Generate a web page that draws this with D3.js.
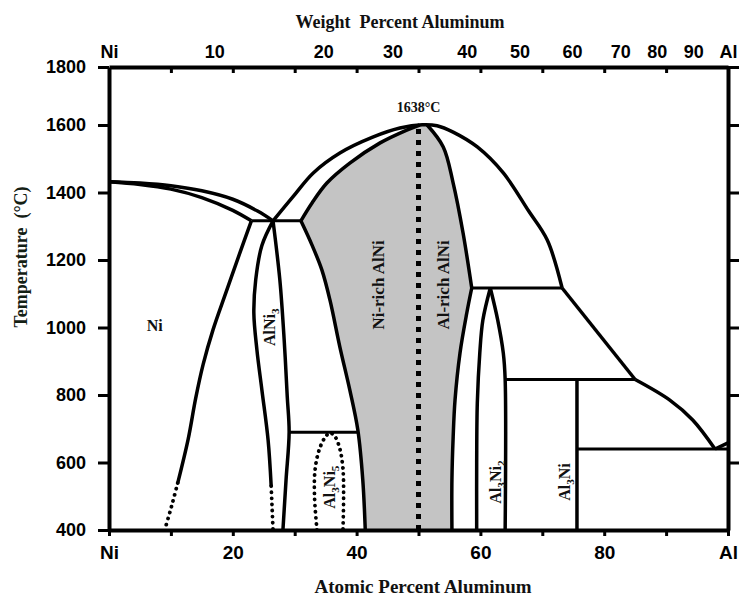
<!DOCTYPE html>
<html>
<head>
<meta charset="utf-8">
<script src="https://cdn.jsdelivr.net/npm/d3@7"></script>
<style>
  body { margin: 0; background: #fff; }
  text { white-space: pre; }
</style>
</head>
<body>
<script>
// axis labels
var bottomTicks = [0, 10, 20, 30, 40, 50, 60, 70, 80, 90, 100];
var bottomLabels = {0: "Ni", 20: "20", 40: "40", 60: "60", 80: "80", 100: "Al"};
var tempTicks = [400, 600, 800, 1000, 1200, 1400, 1600, 1800];
var weightLabels = ["Ni", "10", "20", "30", "40", "50", "60", "70", "80", "90", "Al"];
var weightAtPct = [0, 17.0, 34.6, 45.8, 57.8, 66.3, 74.8, 82.6, 88.5, 94.4, 100];

// phase boundaries, [atomic % Al, temperature °C]
var niLiquidus = [[0,1432],[5,1428],[10,1420],[15,1405],[20,1380],[24,1345],[26.5,1316]];
var niSolidus = [[0,1432],[5,1424],[10,1410],[15,1385],[20,1347],[23,1316]];
var niSolvus = [[23,1316],[21.2,1224],[18.9,1104],[16.8,993],[15.2,890],[14.0,790],[12.8,670],[11.1,539]];
var niSolvusDot = [[11.1,539],[10.1,470],[9.0,400]];
var alni3Left = [[26.5,1316],[24.7,1243],[23.7,1141],[23.4,1043],[23.9,933],[24.7,815],[25.7,667],[26.2,530]];
var alni3LeftDot = [[26.2,530],[26.5,400]];
var alni3Right = [[26.5,1316],[27.6,1141],[28.3,963],[28.8,794],[29.1,690],[28.6,548],[28.1,400]];
var alniNiSide = [[31.0,1316],[32.8,1244],[34.4,1170],[35.7,1081],[37.3,942],[38.9,815],[40.2,696],[41.0,548],[41.4,400]];
var alniSolidus = [[31.0,1316],[32.8,1369],[35.2,1428],[38.9,1487],[43.8,1547],[48.1,1585],[50.2,1600]];
var alniAlUpper = [[51.4,1600],[54.0,1535],[55.6,1428],[57.2,1280],[58.6,1117]];
var alniAlLower = [[58.6,1117],[57.8,1043],[56.7,924],[55.9,785],[55.6,676],[55.4,548],[55.4,400]];
var liquidusDome = [[26.5,1316],[29.7,1387],[33.0,1458],[37.3,1517],[42.6,1564],[47.0,1591],[50.6,1601],[53.0,1598],[55.6,1579],[59.5,1535],[63.7,1458],[67.8,1345],[70.8,1259],[73.2,1117]];
var liquidusMid = [[73.2,1117],[85.0,846]];
var liquidusAl = [[85.0,846],[90.6,785],[94.3,726],[97.9,640]];
var liquidusEnd = [[97.9,640],[100,658]];
var al3ni2Left = [[61.6,1117],[60.4,1022],[59.9,924],[59.5,776],[59.4,600],[59.4,400]];
var al3ni2Right = [[61.6,1117],[62.8,1022],[63.7,924],[64.0,846],[64.0,400]];
var al3ni5Dome = [[33.6,400],[33.2,500],[33.3,580],[34.0,640],[35.0,677],[35.7,688],[36.5,677],[37.3,640],[37.8,580],[37.9,500],[37.8,400]];
var isotherms = [[[23,1316],[31.0,1316]], [[58.6,1117],[73.2,1117]], [[64.0,846],[85.0,846]], [[75.6,640],[100,640]], [[29.1,690],[40.3,690]]];
var al3niLine = [[75.6,400],[75.6,846]];
var congruent = [[50,400],[50,1600]];

var phaseLabels = [
  {t: "Ni", at: 7.4, T: 1005, rot: 0},
  {t: "AlNi_3", at: 26.0, T: 1001, rot: -90},
  {t: "Ni-rich AlNi", at: 43.5, T: 1126, rot: -90},
  {t: "Al-rich AlNi", at: 54.0, T: 1126, rot: -90},
  {t: "Al_3Ni_5", at: 35.7, T: 527, rot: -90},
  {t: "Al_3Ni_2", at: 62.4, T: 542, rot: -90},
  {t: "Al_3Ni", at: 73.7, T: 542, rot: -90}
];

var svg = d3.select("body").append("svg")
    .attr("width", 739)
    .attr("height", 597);

svg.append("rect").attr("width", 739).attr("height", 597).attr("fill", "#fff");

var x = d3.scaleLinear().domain([0, 100]).range([109, 728]);
var y = d3.scaleLinear().domain([400, 1600, 1800]).range([530, 125, 67]);

var curve = d3.line().x(d => x(d[0])).y(d => y(d[1])).curve(d3.curveCatmullRom.alpha(0.5));
var straight = d3.line().x(d => x(d[0])).y(d => y(d[1]));

// shaded AlNi field
var outline = [alniNiSide.slice().reverse(), alniSolidus, alniAlUpper, alniAlLower];
var shade = outline.map((seg, i) => i ? curve(seg).replace(/^M/, "L") : curve(seg)).join("") + "Z";
svg.append("path").attr("d", shade).attr("fill", "#c4c4c4");

var g = svg.append("g").attr("fill", "none").attr("stroke", "#000").attr("stroke-linejoin", "round");

[niLiquidus, niSolidus, niSolvus, alni3Left, alni3Right, alniNiSide, alniSolidus,
 alniAlUpper, alniAlLower, liquidusDome, liquidusAl, al3ni2Left, al3ni2Right].forEach(function (d) {
    g.append("path").attr("d", curve(d)).attr("stroke-width", 3.5);
});
[liquidusMid, liquidusEnd, al3niLine].forEach(function (d) {
    g.append("path").attr("d", straight(d)).attr("stroke-width", 3.5);
});
isotherms.forEach(function (d) {
    g.append("path").attr("d", straight(d)).attr("stroke-width", 3);
});

// dotted boundaries
[niSolvusDot, alni3LeftDot, al3ni5Dome].forEach(function (d) {
    g.append("path").attr("d", curve(d))
        .attr("stroke-width", 3.8)
        .attr("stroke-linecap", "round")
        .attr("stroke-dasharray", "0.1,6");
});
g.append("path").attr("d", straight(congruent))
    .attr("stroke-width", 5)
    .attr("stroke-dasharray", "5,6");

// axes
var tickFont = "'Liberation Sans', Arial, sans-serif";

var axBottom = svg.append("g").attr("transform", "translate(0,530)")
    .call(d3.axisBottom(x).tickValues(bottomTicks).tickSize(6).tickSizeOuter(0).tickPadding(10)
        .tickFormat(d => bottomLabels[d] || ""));
var axLeft = svg.append("g").attr("transform", "translate(109,0)")
    .call(d3.axisLeft(y).tickValues(tempTicks).tickSize(11).tickSizeOuter(0).tickPadding(12)
        .tickFormat(d3.format("d")));
var axTop = svg.append("g").attr("transform", "translate(0,67)")
    .call(d3.axisTop(x).tickValues(bottomTicks.slice(1, 10)).tickSize(-6).tickSizeOuter(0).tickFormat(""));
var axTopLab = svg.append("g").attr("transform", "translate(0,67)")
    .call(d3.axisTop(x).tickValues(weightAtPct).tickSize(0).tickPadding(9)
        .tickFormat((d, i) => weightLabels[i]));
var axRight = svg.append("g").attr("transform", "translate(728,0)")
    .call(d3.axisRight(y).tickValues(tempTicks.slice(1)).tickSize(11).tickSizeOuter(0).tickFormat(""));

[axBottom, axLeft, axTop, axTopLab, axRight].forEach(function (a) {
    a.select(".domain").attr("stroke-width", 4).attr("stroke", "#000");
    a.selectAll(".tick line").attr("stroke-width", 3).attr("stroke", "#000");
    a.selectAll("text").attr("font-family", tickFont).attr("font-weight", "bold")
        .attr("font-size", 18).attr("fill", "#000");
});
axBottom.selectAll("text").attr("font-size", 19);
axTopLab.select(".domain").remove();

// titles
var serif = "'Liberation Serif', 'Times New Roman', serif";
svg.append("text").attr("x", 400).attr("y", 28).attr("text-anchor", "middle")
    .attr("font-family", serif).attr("font-weight", "bold").attr("font-size", 18).attr("fill", "#111")
    .text("Weight  Percent Aluminum");
svg.append("text").attr("x", 423).attr("y", 593).attr("text-anchor", "middle")
    .attr("font-family", serif).attr("font-weight", "bold").attr("font-size", 19).attr("fill", "#111")
    .text("Atomic Percent Aluminum");
svg.append("text").attr("transform", "translate(27,257) rotate(-90)").attr("text-anchor", "middle")
    .attr("font-family", serif).attr("font-weight", "bold").attr("font-size", 18).attr("fill", "#142014")
    .text("Temperature  (°C)");
svg.append("text").attr("x", x(50)).attr("y", 112).attr("text-anchor", "middle")
    .attr("font-family", serif).attr("font-weight", "bold").attr("font-size", 14).attr("fill", "#111")
    .text("1638°C");

// phase labels with subscripts
phaseLabels.forEach(function (p) {
    var size = p.t.indexOf("rich") > 0 ? 17 : 16;
    var t = svg.append("text")
        .attr("transform", "translate(" + x(p.at) + "," + y(p.T) + ") rotate(" + p.rot + ")")
        .attr("text-anchor", "middle").attr("y", size * 0.33)
        .attr("font-family", serif).attr("font-weight", "bold").attr("font-size", size).attr("fill", "#111");
    p.t.split(/(_\d)/).filter(s => s).forEach(function (s, i) {
        if (s[0] === "_") {
            t.append("tspan").attr("font-size", size * 0.7).attr("dy", 4).text(s.slice(1));
        } else {
            var ts = t.append("tspan").text(s);
            if (i > 0) ts.attr("dy", -4);
        }
    });
});
</script>
</body>
</html>
